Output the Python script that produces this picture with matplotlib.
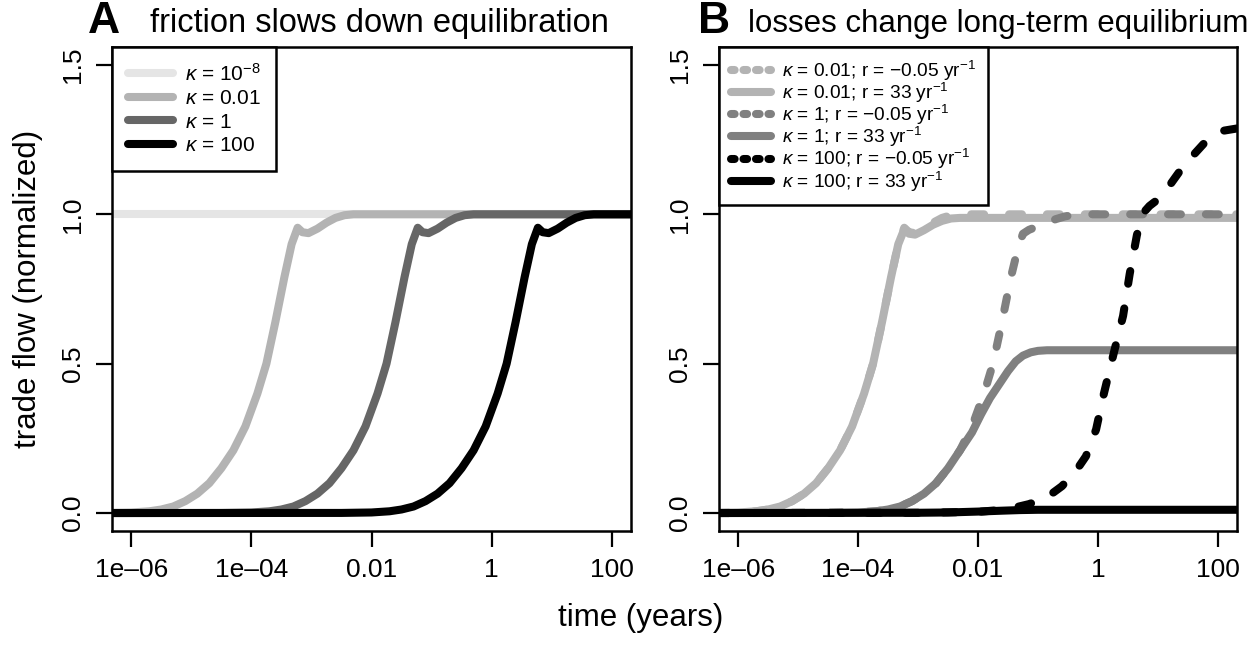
import numpy as np
import matplotlib
matplotlib.use('Agg')
import matplotlib.pyplot as plt
from matplotlib.lines import Line2D

plt.rcParams['font.family'] = ['Liberation Sans', 'DejaVu Sans']
plt.rcParams['mathtext.fontset'] = 'custom'
plt.rcParams['mathtext.rm'] = 'Liberation Sans'
plt.rcParams['mathtext.it'] = 'Liberation Sans:italic'
plt.rcParams['mathtext.bf'] = 'Liberation Sans:bold'

# ---- data (log10 of time in years, normalized trade flow) ----
# panel A: friction
a_k1e8_logt = [-7.0, 3.0]
a_k1e8_flow = [1.0, 1.0]

a_k001_logt = [-7.0, -6.5, -6.0, -5.7, -5.5, -5.3, -5.1, -4.9, -4.7, -4.5, -4.3, -4.1,
               -3.9, -3.75, -3.6, -3.45, -3.33, -3.23, -3.15, -3.05, -2.9, -2.75,
               -2.6, -2.45, -2.3, 3.0]
a_k001_flow = [0.0, 0.0005, 0.002, 0.006, 0.012, 0.022, 0.04, 0.065, 0.1, 0.15, 0.21,
               0.29, 0.4, 0.5, 0.64, 0.79, 0.9, 0.955, 0.94, 0.937, 0.952, 0.972,
               0.988, 0.997, 1.0, 1.0]

a_k1_logt = [-7.0, -4.5, -4.0, -3.7, -3.5, -3.3, -3.1, -2.9, -2.7, -2.5, -2.3, -2.1,
             -1.9, -1.75, -1.6, -1.45, -1.33, -1.23, -1.15, -1.05, -0.9, -0.75,
             -0.6, -0.45, -0.3, 3.0]
a_k1_flow = [0.0, 0.0005, 0.002, 0.006, 0.012, 0.022, 0.04, 0.065, 0.1, 0.15, 0.21,
             0.29, 0.4, 0.5, 0.64, 0.79, 0.9, 0.955, 0.94, 0.937, 0.952, 0.972,
             0.988, 0.997, 1.0, 1.0]

a_k100_logt = [-7.0, -2.5, -2.0, -1.7, -1.5, -1.3, -1.1, -0.9, -0.7, -0.5, -0.3, -0.1,
               0.1, 0.25, 0.4, 0.55, 0.67, 0.77, 0.85, 0.95, 1.1, 1.25,
               1.4, 1.55, 1.7, 3.0]
a_k100_flow = [0.0, 0.0005, 0.002, 0.006, 0.012, 0.022, 0.04, 0.065, 0.1, 0.15, 0.21,
               0.29, 0.4, 0.5, 0.64, 0.79, 0.9, 0.955, 0.94, 0.937, 0.952, 0.972,
               0.988, 0.997, 1.0, 1.0]

# panel B: losses
b_k001_neg_logt = [-7.0, -6.5, -6.0, -5.7, -5.5, -5.3, -5.1, -4.9, -4.7, -4.5, -4.3, -4.1,
                   -3.9, -3.75, -3.6, -3.45, -3.33, -3.23, -3.15, -3.05, -2.9, -2.75,
                   -2.6, -2.45, -2.3, 3.0]
b_k001_neg_flow = [0.0, 0.0005, 0.002, 0.006, 0.012, 0.022, 0.04, 0.065, 0.1, 0.15, 0.21,
                   0.29, 0.4, 0.5, 0.64, 0.79, 0.9, 0.955, 0.94, 0.937, 0.952, 0.972,
                   0.988, 0.997, 1.0, 1.0]

b_k001_pos_logt = [-7.0, -6.5, -6.0, -5.7, -5.5, -5.3, -5.1, -4.9, -4.7, -4.5, -4.3, -4.1,
                   -3.9, -3.75, -3.6, -3.45, -3.33, -3.23, -3.15, -3.05, -2.9, -2.75,
                   -2.6, -2.45, -2.3, 3.0]
b_k001_pos_flow = [0.0, 0.0005, 0.002, 0.006, 0.012, 0.022, 0.04, 0.065, 0.1, 0.15, 0.21,
                   0.29, 0.4, 0.5, 0.64, 0.79, 0.9, 0.95, 0.935, 0.932, 0.947, 0.965,
                   0.978, 0.986, 0.988, 0.988]

b_k1_neg_logt = [-7.0, -4.5, -4.0, -3.7, -3.5, -3.3, -3.1, -2.9, -2.7, -2.5, -2.3, -2.1,
                 -1.9, -1.75, -1.6, -1.45, -1.33, -1.25, -1.15, -1.0, -0.85, -0.7,
                 -0.55, -0.4, -0.25, 3.0]
b_k1_neg_flow = [0.0, 0.0005, 0.002, 0.006, 0.012, 0.022, 0.04, 0.065, 0.1, 0.15, 0.21,
                 0.29, 0.4, 0.5, 0.64, 0.79, 0.89, 0.935, 0.948, 0.96, 0.972, 0.984,
                 0.993, 0.998, 1.0, 1.0]

b_k1_pos_logt = [-7.0, -4.5, -4.0, -3.7, -3.5, -3.3, -3.1, -2.9, -2.7, -2.5, -2.3, -2.1,
                 -1.95, -1.8, -1.65, -1.5, -1.37, -1.25, -1.12, -1.0, -0.85, 3.0]
b_k1_pos_flow = [0.0, 0.0005, 0.002, 0.006, 0.012, 0.022, 0.04, 0.065, 0.1, 0.15, 0.21,
                 0.27, 0.33, 0.385, 0.43, 0.475, 0.508, 0.527, 0.538, 0.543, 0.545, 0.545]

b_k100_neg_logt = [-7.0, -3.0, -2.0, -1.65, -1.4, -1.15, -0.87, -0.6, -0.37, -0.2,
                   -0.03, 0.1, 0.27, 0.42, 0.53, 0.65, 0.72, 0.78, 0.86, 0.95, 1.1,
                   1.35, 1.6, 1.85, 2.1, 2.4]
b_k100_neg_flow = [0.0, 0.001, 0.004, 0.01, 0.018, 0.03, 0.05, 0.09, 0.14, 0.19,
                   0.28, 0.4, 0.54, 0.66, 0.8, 0.93, 0.985, 1.01, 1.028, 1.042, 1.07,
                   1.14, 1.2, 1.255, 1.28, 1.29]

b_k100_pos_logt = [-7.0, -3.0, -2.5, -2.0, -1.6, -1.3, -1.0, -0.5, 3.0]
b_k100_pos_flow = [0.0, 0.001, 0.002, 0.005, 0.008, 0.01, 0.011, 0.011, 0.011]

leg_a = [r'$\kappa$ = 10$^{-8}$', r'$\kappa$ = 0.01', r'$\kappa$ = 1', r'$\kappa$ = 100']
leg_b = [r'$\kappa$ = 0.01; r = $-$0.05 yr$^{-1}$', r'$\kappa$ = 0.01; r = 33 yr$^{-1}$',
         r'$\kappa$ = 1; r = $-$0.05 yr$^{-1}$', r'$\kappa$ = 1; r = 33 yr$^{-1}$',
         r'$\kappa$ = 100; r = $-$0.05 yr$^{-1}$', r'$\kappa$ = 100; r = 33 yr$^{-1}$']

xticks = [1e-6, 1e-4, 1e-2, 1, 100]
xticklabels = ['1e\u201306', '1e\u201304', '0.01', '1', '100']
yticks = [0.0, 0.5, 1.0, 1.5]
yticklabels = ['0.0', '0.5', '1.0', '1.5']

LW = 5.8
DASH = (1.6, 3.1)
c_light, c_mid, c_dark, c_grey = '#e5e5e5', '#b3b3b3', '#666666', '#808080'

fig = plt.figure(figsize=(12.58, 6.48), dpi=100)
axA = fig.add_axes([112 / 1258, 117 / 648, 519 / 1258, 484 / 648])
axB = fig.add_axes([719 / 1258, 117 / 648, 518 / 1258, 484 / 648])


def curve(ax, logt, flow, color, dashed=False):
    t = 10.0 ** np.array(logt)
    if dashed:
        ax.plot(t, flow, color=color, lw=LW, dashes=DASH, dash_capstyle='round',
                solid_joinstyle='round')
    else:
        ax.plot(t, flow, color=color, lw=LW, solid_capstyle='round',
                solid_joinstyle='round')


curve(axA, a_k1e8_logt, a_k1e8_flow, c_light)
curve(axA, a_k001_logt, a_k001_flow, c_mid)
curve(axA, a_k1_logt, a_k1_flow, c_dark)
curve(axA, a_k100_logt, a_k100_flow, 'black')

curve(axB, b_k001_neg_logt, b_k001_neg_flow, c_mid, dashed=True)
curve(axB, b_k001_pos_logt, b_k001_pos_flow, c_mid)
curve(axB, b_k1_neg_logt, b_k1_neg_flow, c_grey, dashed=True)
curve(axB, b_k1_pos_logt, b_k1_pos_flow, c_grey)
curve(axB, b_k100_neg_logt, b_k100_neg_flow, 'black', dashed=True)
curve(axB, b_k100_pos_logt, b_k100_pos_flow, 'black')

for ax in (axA, axB):
    ax.set_xscale('log')
    ax.set_xlim(10 ** -6.32, 10 ** 2.32)
    ax.set_ylim(-0.06, 1.56)
    ax.set_xticks(xticks)
    ax.set_xticklabels(xticklabels, fontsize=19)
    ax.minorticks_off()
    ax.set_yticks(yticks)
    ax.set_yticklabels(yticklabels, fontsize=19, rotation=90, va='center')
    ax.tick_params(direction='out', length=11.5, width=1.6, pad=8)
    for s in ax.spines.values():
        s.set_linewidth(1.8)

axA.set_ylabel('trade flow (normalized)', fontsize=22.5, labelpad=13)

# legends
hA = [Line2D([], [], color=c, lw=LW, solid_capstyle='round')
      for c in (c_light, c_mid, c_dark, 'black')]
legA = axA.legend(hA, leg_a, loc='upper left', bbox_to_anchor=(0, 1), borderaxespad=0,
                  fontsize=15, fancybox=False, framealpha=1, edgecolor='black',
                  handlelength=2.2, handletextpad=0.55, labelspacing=0.22, borderpad=0.75)
legA.get_frame().set_linewidth(1.8)

hB = []
for c in (c_mid, c_grey, 'black'):
    hB.append(Line2D([], [], color=c, lw=LW, dashes=(0.45, 1.1), dash_capstyle='round'))
    hB.append(Line2D([], [], color=c, lw=LW, solid_capstyle='round'))
legB = axB.legend(hB, leg_b, loc='upper left', bbox_to_anchor=(0, 1), borderaxespad=0,
                  fontsize=13.8, fancybox=False, framealpha=1, edgecolor='black',
                  handlelength=2.1, handletextpad=0.6, labelspacing=-0.1, borderpad=0.6)
legB.get_frame().set_linewidth(1.8)

# titles
fig.text(88 / 1258, 1 - 33 / 648, 'A', fontsize=32, fontweight='bold', va='baseline')
fig.text(150 / 1258, 1 - 32 / 648, 'friction slows down equilibration', fontsize=23.5,
         va='baseline')
fig.text(698 / 1258, 1 - 33 / 648, 'B', fontsize=32, fontweight='bold', va='baseline')
fig.text(748 / 1258, 1 - 32 / 648, 'losses change long-term equilibrium', fontsize=22.5,
         va='baseline')
fig.text(641 / 1258, 1 - 618 / 648, 'time (years)', fontsize=22.5, ha='center', va='center')

fig.savefig('out.png', dpi=100)
